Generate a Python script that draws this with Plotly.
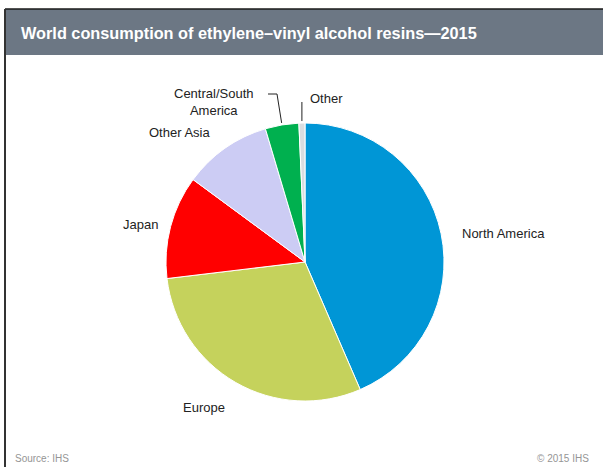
import math
import plotly.graph_objects as go

# World consumption of EVOH resins, 2015 (share of total, %)
regions = ["North America", "Europe", "Japan", "Other Asia", "Central/South America", "Other"]
shares = [43.5, 29.6, 12.0, 10.3, 3.9, 0.7]
colors = ["#0096d6", "#c5d25c", "#ff0000", "#ccccf4", "#00b04f", "#d9dde0"]

W, H = 603, 467
CX, CY, R = 305, 262, 139  # pie centre and radius in pixels


def px(x):
    return x / W


def py(y):
    return 1 - y / H


fig = go.Figure(go.Pie(
    labels=regions,
    values=shares,
    sort=False,
    direction="clockwise",
    rotation=0,
    textinfo="none",
    hoverinfo="label+percent",
    marker=dict(colors=colors, line=dict(color="white", width=1)),
    domain=dict(x=[px(CX - R), px(CX + R)], y=[py(CY + R), py(CY - R)]),
    showlegend=False,
))


def rim_point(idx, extra=3):
    """Pixel point just outside the rim at the middle of slice idx."""
    total = sum(shares)
    start = sum(shares[:idx]) / total * 360
    mid = start + shares[idx] / total * 360 / 2
    a = math.radians(mid)
    return CX + (R + extra) * math.sin(a), CY - (R + extra) * math.cos(a)


label_font = dict(family="Liberation Sans, Arial, sans-serif", size=13, color="#222222")

labels = [
    ("North America", 503, 233),
    ("Europe", 204, 407),
    ("Japan", 140, 224),
    ("Other Asia", 180, 133),
    ("Central/South<br>America", 214, 102),
    ("Other", 326, 98),
]
annotations = []
for text, x, y in labels:
    annotations.append(dict(
        text=text, x=px(x), y=py(y), xref="paper", yref="paper",
        showarrow=False, font=label_font, xanchor="center", yanchor="middle",
        align="center",
    ))

# Title
annotations.append(dict(
    text="<b>World consumption of ethylene\u2013vinyl alcohol resins\u20142015</b>",
    x=px(19), y=py(33), xref="paper", yref="paper", showarrow=False,
    xanchor="left", yanchor="middle",
    font=dict(family="Liberation Sans, Arial, sans-serif", size=16.3, color="white"),
))
# Footer
foot_font = dict(family="Liberation Sans, Arial, sans-serif", size=10, color="#959595")
annotations.append(dict(text="Source: IHS", x=px(13), y=py(458), xref="paper", yref="paper",
                        showarrow=False, xanchor="left", yanchor="middle", font=foot_font))
annotations.append(dict(text="\u00a9 2015 IHS", x=px(591), y=py(458), xref="paper", yref="paper",
                        showarrow=False, xanchor="right", yanchor="middle", font=foot_font))

shapes = [
    # title bar
    dict(type="rect", xref="paper", yref="paper", x0=px(5), x1=1, y0=py(55), y1=py(9),
         fillcolor="#6c7784", line=dict(width=0), layer="below"),
    # frame lines
    dict(type="line", xref="paper", yref="paper", x0=px(5), x1=1, y0=py(9), y1=py(9),
         line=dict(color="#1a1a1a", width=1.5)),
    dict(type="line", xref="paper", yref="paper", x0=px(5), x1=px(5), y0=py(9), y1=0,
         line=dict(color="#333333", width=2)),
]

# leader lines for the two thin slices
csx, csy = rim_point(4, 2)
shapes.append(dict(type="path", xref="paper", yref="paper",
                   path=f"M {px(268)},{py(94)} L {px(277)},{py(94)} L {px(csx)},{py(csy)}",
                   line=dict(color="#222222", width=1)))
ox, oy = rim_point(5, 2)
shapes.append(dict(type="line", xref="paper", yref="paper",
                   x0=px(ox), x1=px(ox), y0=py(102), y1=py(oy),
                   line=dict(color="#222222", width=1)))

fig.update_layout(
    width=W, height=H,
    margin=dict(l=0, r=0, t=0, b=0),
    paper_bgcolor="white",
    plot_bgcolor="white",
    annotations=annotations,
    shapes=shapes,
)

fig.write_html("out.html")
